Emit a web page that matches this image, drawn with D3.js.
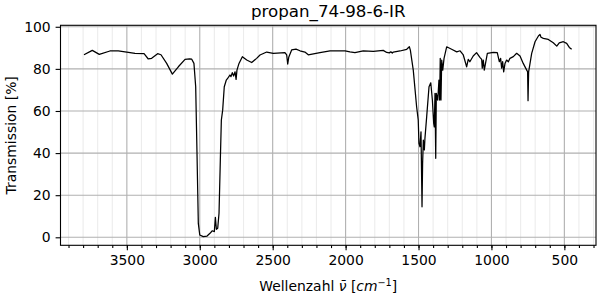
<!DOCTYPE html>
<html>
<head>
  <meta charset="utf-8">
  <script src="https://d3js.org/d3.v7.min.js"></script>
  <style>
    body { margin: 0; background: #fff; }
    text { font-family: "DejaVu Sans", sans-serif; fill: #000; }
    .tick text { font-size: 13.9px; }
    .grid-major line { stroke: #b0b0b0; stroke-width: 1.1px; }
    .grid-minor line { stroke: #ececec; stroke-width: 1.1px; }
  </style>
</head>
<body>
<div id="plot"></div>
<script>
// IR spectrum, propane
var wavenumber = [3794, 3737, 3689, 3616, 3559, 3501, 3444, 3382, 3353, 3330, 3289, 3266, 3227, 3188, 3147,
  3101, 3070, 3055, 3040, 3028, 3019, 3010, 3000, 2976, 2950, 2930, 2914, 2900, 2893, 2886, 2877, 2868,
  2859, 2852, 2843, 2832, 2818, 2804, 2793, 2786, 2777, 2768, 2758, 2751, 2745, 2731, 2708, 2678, 2644,
  2610, 2587, 2541, 2496, 2416, 2404, 2397, 2390, 2370, 2340, 2313, 2279, 2256, 2176, 2107, 2004, 1970,
  1936, 1879, 1810, 1742, 1718, 1700, 1690, 1680, 1673, 1627, 1581, 1563, 1556, 1536, 1513, 1502, 1497,
  1490, 1483, 1476, 1472, 1467, 1460, 1456, 1444, 1428, 1416, 1405, 1396, 1392, 1387, 1382, 1378, 1368,
  1360, 1355, 1351, 1346, 1341, 1334, 1325, 1307, 1273, 1238, 1215, 1193, 1170, 1159, 1148, 1125, 1102,
  1079, 1067, 1063, 1056, 1049, 1040, 1028, 987, 960, 946, 937, 930, 923, 916, 907, 896, 884, 873, 850,
  827, 804, 782, 758, 752, 749, 745, 724, 701, 678, 667, 660, 644, 610, 576, 552, 535, 507, 484, 466, 450];
var transmission = [86.7, 88.8, 86.9, 88.5, 88.5, 88.0, 87.4, 87.2, 84.7, 85.0, 87.2, 86.7, 82.6, 77.5, 81.0,
  84.5, 84.8, 84.6, 82.6, 71.5, 39.9, 6.6, 1.1, 0.3, 0.6, 1.9, 3.1, 2.7, 9.5, 3.8, 4.3, 11.4,
  36.7, 55.7, 60.4, 71.5, 74.7, 76.0, 77.1, 76.3, 78.2, 76.6, 78.6, 75.0, 79.4, 82.6, 85.8, 84.2, 83.0,
  85.0, 86.6, 88.0, 87.4, 87.7, 86.6, 82.3, 85.5, 89.0, 89.4, 88.6, 88.0, 86.7, 87.7, 88.5, 88.6, 88.1,
  87.7, 88.5, 88.3, 88.8, 87.8, 87.6, 88.1, 87.5, 88.0, 88.5, 89.3, 90.5, 88.9, 79.4, 62.0, 55.7, 44.6,
  43.0, 50.1, 14.5, 35.1, 46.2, 41.5, 47.0, 57.3, 71.5, 73.4, 65.2, 54.1, 52.5, 68.4, 37.5, 68.4, 65.2,
  74.7, 65.2, 85.0, 65.2, 84.2, 79.4, 85.0, 90.5, 89.3, 88.1, 88.6, 86.6, 81.0, 84.5, 83.4, 86.1, 87.7,
  85.5, 84.5, 80.3, 84.2, 79.4, 82.9, 87.4, 87.8, 87.7, 83.4, 85.0, 80.3, 83.4, 78.6, 82.6, 84.2, 83.4, 85.0, 85.8,
  87.4, 86.1, 82.6, 79.4, 78.6, 64.9, 78.6, 87.4, 92.9, 95.6, 96.4, 95.0, 94.5, 94.0, 92.4, 90.8, 92.4, 92.9, 92.1, 90.2, 89.3];

var xTicks = [3500, 3000, 2500, 2000, 1500, 1000, 500];
var xMinorTicks = d3.range(3900, 299, -100);
var yTicks = [0, 20, 40, 60, 80, 100];
var title = "propan_74-98-6-IR";

var W = 600, H = 300;
var margin = {top: 25.3, right: 4, bottom: 54.7, left: 60.5};
var width = W - margin.left - margin.right,
    height = H - margin.top - margin.bottom;

var svg = d3.select('#plot').append('svg')
    .attr('width', W)
    .attr('height', H);

var g = svg.append('g')
    .attr('transform', 'translate(' + margin.left + ',' + margin.top + ')');

var x = d3.scaleLinear().domain([3955, 283]).range([0, width]);
var y = d3.scaleLinear().domain([-3.8, 100.7]).range([height, 0]);

// grids
g.append('g').attr('class', 'grid-minor')
  .selectAll('line').data(xMinorTicks.filter(function(d){ return xTicks.indexOf(d) < 0; }))
  .enter().append('line')
  .attr('x1', function(d){ return x(d); }).attr('x2', function(d){ return x(d); })
  .attr('y1', 0).attr('y2', height);

var major = g.append('g').attr('class', 'grid-major');
major.selectAll('.vx').data(xTicks).enter().append('line')
  .attr('x1', function(d){ return x(d); }).attr('x2', function(d){ return x(d); })
  .attr('y1', 0).attr('y2', height);
major.selectAll('.hy').data(yTicks).enter().append('line')
  .attr('x1', 0).attr('x2', width)
  .attr('y1', function(d){ return y(d); }).attr('y2', function(d){ return y(d); });

// spectrum
var line = d3.line()
  .x(function(d, i){ return x(wavenumber[i]); })
  .y(function(d){ return y(d); });

g.append('path')
  .datum(transmission)
  .attr('d', line)
  .attr('fill', 'none')
  .attr('stroke', '#000')
  .attr('stroke-width', 1.25)
  .attr('stroke-linejoin', 'round');

// axes
var xAxis = g.append('g')
  .attr('transform', 'translate(0,' + height + ')')
  .call(d3.axisBottom(x).tickValues(xTicks).tickFormat(d3.format('d')).tickSize(4.9).tickPadding(4.9));
g.append('g')
  .attr('transform', 'translate(0,' + height + ')')
  .call(d3.axisBottom(x).tickValues(xMinorTicks).tickFormat('').tickSize(2.8))
  .select('.domain').remove();
var yAxis = g.append('g')
  .call(d3.axisLeft(y).tickValues(yTicks).tickSize(4.9).tickPadding(4.9));

g.selectAll('.tick line').attr('stroke', '#000').attr('stroke-width', 1.1);
g.selectAll('.domain').remove();

// frame
g.append('rect')
  .attr('width', width).attr('height', height)
  .attr('fill', 'none').attr('stroke', '#000').attr('stroke-width', 1.1);

// labels
svg.append('text')
  .attr('x', margin.left + width / 2)
  .attr('y', 17)
  .attr('text-anchor', 'middle')
  .style('font-size', '16.7px')
  .text(title);

svg.append('text')
  .attr('transform', 'translate(16,' + (margin.top + height / 2) + ') rotate(-90)')
  .attr('text-anchor', 'middle')
  .style('font-size', '13.9px')
  .text('Transmission [%]');

var xl = svg.append('text')
  .attr('x', margin.left + width / 2)
  .attr('y', 291)
  .attr('text-anchor', 'middle')
  .style('font-size', '13.9px');
xl.append('tspan').text('Wellenzahl ');
xl.append('tspan').style('font-style', 'italic').text('\u03BD\u0304');
xl.append('tspan').text(' [');
xl.append('tspan').style('font-style', 'italic').text('cm');
xl.append('tspan').attr('dy', -5).style('font-size', '9.7px').text('\u22121');
xl.append('tspan').attr('dy', 5).text(']');
</script>
</body>
</html>
